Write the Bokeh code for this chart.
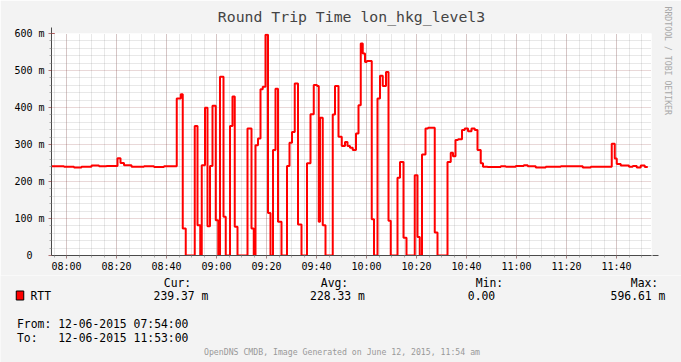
import numpy as np
from bokeh.plotting import figure
from bokeh.layouts import column
from bokeh.models import FixedTicker, Label, Arrow, NormalHead, Range1d, Title
from bokeh.embed import file_html
from bokeh.resources import INLINE

# ---------------- data ----------------
start_clock = "07:54"
end_min = 238.5  # end of the last sample, minutes after 07:54

# change points of the RTT series: minutes after 07:54 and value (milliseconds)
rtt_t_min = [0, 5, 9, 12, 16, 19, 22, 26.4, 27.6, 29, 32, 37, 41, 45,
             50.1, 51.7, 52.5, 53.7, 57.3, 58.4, 59.5, 60.1, 61.4, 62.4, 63.4, 64.4, 65.7, 66.7,
             67.4, 68.8, 69.7, 71.4, 72.4, 73.3, 74.4, 78.4, 80.0, 80.9, 81.6, 82.6, 83.6, 84.5,
             85.6, 86.6, 87.6, 88.6, 89.6, 90.6, 92.0, 94.2, 95.2, 96.2, 97.3, 98.6, 100.0, 102.2,
             103.6, 104.9, 106.2, 106.9, 107.4, 108.5, 109.6, 112.5, 113.4, 114.8, 116.1, 117.4,
             118.4, 119.4, 120.5, 121.8, 122.8, 123.7, 124.5, 125.4, 126.1, 128.1, 129.0, 130.4,
             131.4, 132.5, 133.8, 134.8, 135.7, 138.4, 139.4, 140.8, 142.0, 145.3, 146.4, 147.3,
             148.2, 149.6, 150.6, 153.3, 154.4, 158.4, 159.7, 160.6, 161.6, 162.6, 164.2, 165.3,
             166.6, 168.0, 169.3, 170.4, 171.7, 172.6, 174.4, 179.7, 181.7, 185.7, 188.9, 190.5,
             193.7, 197.7, 203.7, 212.5, 215.7, 224.1, 225.3, 226.1, 227.7, 231.0, 232.5, 234.1,
             235.7, 237.3]
rtt_ms = [241, 240, 238, 240, 243, 241, 242, 263, 250, 244, 240, 241, 239, 241,
          424, 436, 73, 0, 350, 82, 0, 244, 399, 79, 242, 405, 95, 0,
          483, 105, 0, 350, 430, 78, 0, 343, 73, 0, 298, 316, 449, 456,
          596.61, 115, 0, 285, 451, 91, 0, 242, 305, 334, 465, 84, 0, 249,
          382, 461, 458, 91, 372, 82, 0, 381, 458, 321, 296, 307,
          296, 291, 285, 330, 406, 573, 546, 523, 526, 98, 0, 424,
          486, 458, 496, 94, 0, 210, 253, 48, 0, 217, 50, 0,
          273, 343, 345, 62, 0, 253, 278, 268, 312, 314, 339, 343,
          336, 343, 339, 285, 249, 240, 239, 241, 240, 242, 244, 241,
          238, 240, 241, 238, 240, 302, 262, 247, 243, 240, 242, 238,
          243, 239.37]

x_tick_labels = ["08:00", "08:20", "08:40", "09:00", "09:20", "09:40",
                 "10:00", "10:20", "10:40", "11:00", "11:20", "11:40"]
y_ticks = [0, 100, 200, 300, 400, 500, 600]
y_tick_labels = ["0\u00a0\u00a0", "100 m", "200 m", "300 m", "400 m", "500 m", "600 m"]

title_text = "Round Trip Time lon_hkg_level3"
legend_name = "RTT"
stat_heads = ["Cur:", "Avg:", "Min:", "Max:"]
stat_values = ["239.37 m", "228.33 m", "0.00", "596.61 m"]
from_text = "From: 12-06-2015 07:54:00"
to_text = "To:\u00a0\u00a0\u00a012-06-2015 11:53:00"
footer_text = "OpenDNS CMDB, Image Generated on June 12, 2015, 11:54 am"
side_text = "RRDTOOL / TOBI OETIKER"

# ---------------- helpers ----------------
def clock_to_min(s):
    h, m = s.split(":")
    h0, m0 = start_clock.split(":")
    return (int(h) * 60 + int(m)) - (int(h0) * 60 + int(m0))

x_ticks = [clock_to_min(s) for s in x_tick_labels]

MONO = "DejaVu Sans Mono"
BG = "#F3F3F3"
axis_col = "#4a4a4a"
arrow_col = "#7F0000"

# ---------------- chart ----------------
p = figure(width=681, height=275,
           x_range=Range1d(0, 240), y_range=Range1d(0, 600),
           min_border_left=51, min_border_right=30, min_border_top=33, min_border_bottom=20,
           output_backend="svg", toolbar_location=None, tools="",
           background_fill_color="white", border_fill_color=BG)
p.outline_line_color = None
try:
    p.frame_align = False
except Exception:
    pass

p.title.text = title_text
p.title.text_font = MONO
p.title.text_font_style = "normal"
p.title.text_font_size = "14.8px"
p.title.align = "center"
p.title.vertical_align = "top"
p.title.offset = -11
p.title.standoff = 13

side = Title(text=side_text, text_font=MONO, text_font_style="normal",
             text_font_size="8.2px", text_color="#A8A8A8", standoff=18, offset=-27,
             vertical_align="top")
p.add_layout(side, "right")

xs = list(rtt_t_min) + [end_min]
ys = list(rtt_ms) + [rtt_ms[-1]]
p.step(xs, ys, mode="after", line_color="#FF0000", line_width=2)

for ax in (p.xaxis[0], p.yaxis[0]):
    ax.axis_line_color = axis_col
    ax.major_tick_in = 0
    ax.minor_tick_in = 0
    ax.major_tick_out = 3
    ax.minor_tick_out = 2
    ax.major_tick_line_color = "#821E1E"
    ax.major_tick_line_alpha = 0.6
    ax.minor_tick_line_color = "#8C8C8C"
    ax.minor_tick_line_alpha = 0.7
    ax.major_label_text_font = MONO
    ax.major_label_text_font_size = "10px"
    ax.major_label_text_color = "black"

p.xaxis.ticker = FixedTicker(ticks=x_ticks, minor_ticks=list(range(1, 240, 5)))
p.xaxis.major_label_overrides = {t: l for t, l in zip(x_ticks, x_tick_labels)}
p.xaxis.major_label_standoff = 2

p.yaxis.ticker = FixedTicker(ticks=y_ticks, minor_ticks=[v for v in range(20, 600, 20) if v % 100])
p.yaxis.major_label_overrides = {t: l for t, l in zip(y_ticks, y_tick_labels)}
p.yaxis.major_label_standoff = 4

for g in (p.xgrid[0], p.ygrid[0]):
    g.grid_line_color = "#821E1E"
    g.grid_line_alpha = 0.35
    g.grid_line_dash = "1 1"
    g.minor_grid_line_color = "#8C8C8C"
    g.minor_grid_line_alpha = 0.4
    g.minor_grid_line_dash = "1 1"

# axis arrows (a few px beyond the frame)
p.add_layout(Arrow(end=NormalHead(size=6, fill_color=arrow_col, line_color=arrow_col),
                   x_start=0, y_start=600, x_end=0, y_end=600 + 6 * 600 / 222,
                   line_color=axis_col, line_width=1))
p.add_layout(Arrow(end=NormalHead(size=6, fill_color=arrow_col, line_color=arrow_col),
                   x_start=240, y_start=0, x_end=240 + 7 / 2.5, y_end=0,
                   line_color=axis_col, line_width=1))

# ---------------- legend / footer panel (page pixel coordinates) ----------------
q = figure(frame_width=681, frame_height=87, x_range=Range1d(0, 681), y_range=Range1d(362, 275),
           min_border=0, output_backend="svg", toolbar_location=None, tools="",
           x_axis_type=None, y_axis_type=None,
           background_fill_color=BG, border_fill_color=BG)
q.outline_line_color = None
q.grid.visible = False
try:
    q.frame_align = False
except Exception:
    pass

LEG = "11.4px"

def txt(s, px, py, size=LEG, color="black", align="center", font=MONO):
    q.add_layout(Label(x=px, y=py, text=s, text_font=font, text_font_size=size,
                       text_color=color, text_align=align, text_baseline="middle"))

head_x = [177, 334, 489, 644]
val_x = [180.5, 337, 481, 637.5]
for s, x in zip(stat_heads, head_x):
    txt(s, x, 282)
for s, x in zip(stat_values, val_x):
    txt(s, x, 295)

q.add_layout(Label(x=19.5, y=295, text="\u2003", text_font="DejaVu Sans", text_font_size="7.5px",
                   text_align="center", text_baseline="middle",
                   background_fill_color="#FF0000", border_line_color="black",
                   border_line_width=1))
txt(legend_name, 30, 295, align="left")
txt(from_text, 16.5, 323, align="left")
txt(to_text, 16.5, 337, align="left")
txt(footer_text, 341.5, 351, size="8.2px", color="#999999")

layout = column(p, q, spacing=0)
open("out.html", "w").write(file_html(layout, INLINE))
